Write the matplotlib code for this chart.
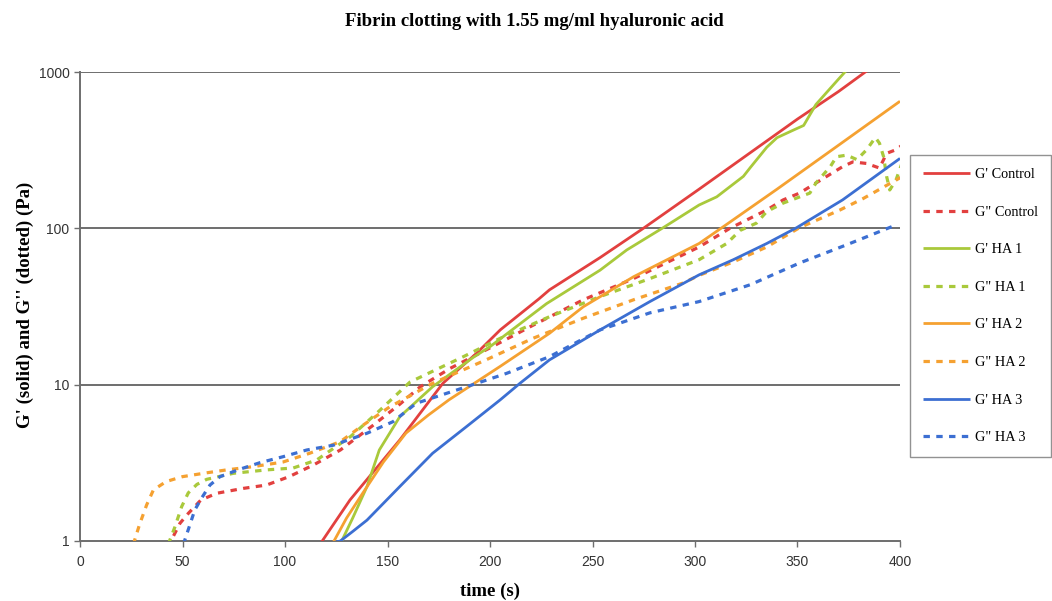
import matplotlib
matplotlib.use("Agg")
import matplotlib.pyplot as plt
from matplotlib.ticker import FixedLocator, FixedFormatter, NullLocator

# ---- data ----
x_ticks = [0, 50, 100, 150, 200, 250, 300, 350, 400]
y_ticks = [1, 10, 100, 1000]
y_tick_labels = ["1", "10", "100", "1000"]

gp_ctrl_t = [117, 131.7, 156, 177, 193.5, 205, 224, 229, 253.7, 274.8, 302, 325, 350, 370, 387]
gp_ctrl_v = [0.95, 1.83, 4.43, 10.2, 15.9, 22.4, 35.5, 40.4, 65, 100, 178, 292, 500, 750, 1090]

gpp_ctrl_t = [44, 45.5, 48.8, 52.8, 59, 66.7, 79.6, 91, 102, 113.8, 127, 143, 156, 166, 180.5, 200,
              221, 245.5, 270, 302, 317, 335, 343, 351, 364, 372, 377, 383.7, 390, 393.5, 398, 401]
gpp_ctrl_v = [0.9, 1.07, 1.3, 1.5, 1.83, 2.02, 2.17, 2.28, 2.58, 3.06, 3.82, 5.5, 7.5, 9.7, 12.7, 17.2,
              24, 34.9, 47.7, 76, 100, 131, 152, 168, 214, 248, 266, 260, 243, 302, 318, 340]

gp_ha1_t = [126, 133, 140, 146, 156, 172, 192, 200, 227.6, 253.7, 266.7, 284.5, 302, 310.6, 323.6,
            327, 335, 340, 348, 353, 359, 365, 370, 376]
gp_ha1_v = [0.9, 1.4, 2.23, 3.82, 6.24, 9.7, 15, 17.5, 33, 54, 72.7, 101, 141, 159, 215,
            245, 330, 380, 425, 455, 620, 760, 900, 1100]

gpp_ha1_t = [43, 46.3, 49.6, 52.8, 57, 61.8, 74.8, 91, 104, 115.5, 132, 144.7, 161, 187, 205, 229,
             253.7, 278, 302, 315.5, 322, 330, 335, 343, 356, 359, 366, 369, 374, 379, 383.7, 388,
             390, 392, 393.5, 395, 398, 401]
gpp_ha1_v = [0.95, 1.23, 1.66, 2.03, 2.3, 2.48, 2.71, 2.85, 2.93, 3.3, 4.66, 6.56, 10.4, 15.1, 19.8, 27.2,
             36.6, 47.7, 63, 80, 97, 108, 128, 145, 168, 195, 248, 287, 294, 275, 318, 381,
             350, 287, 214, 176, 203, 262]

gp_ha2_t = [122, 130, 138, 148, 159, 170, 180, 205, 229, 245.5, 270, 302, 315, 340, 370, 400]
gp_ha2_v = [0.9, 1.4, 2.03, 3.2, 4.9, 6.4, 8.0, 13.1, 21.3, 31.5, 49, 80, 105, 178, 340, 650]

gpp_ha2_t = [26, 29, 32.5, 35.8, 42, 50, 61.8, 71.5, 84.5, 99, 112, 127, 138, 151, 172, 198, 221,
             245.5, 270, 294, 302, 318.7, 335, 351, 370.7, 382, 401]
gpp_ha2_v = [0.95, 1.27, 1.7, 2.12, 2.4, 2.58, 2.73, 2.85, 2.99, 3.2, 3.64, 4.32, 5.5, 7.2, 10.2, 14.4, 19.8,
             26.6, 34.9, 44.6, 50, 61, 76, 101, 131, 155, 214]

gp_ha3_t = [120, 127, 133, 140, 156, 172, 188.6, 205, 214.6, 229, 253.7, 278, 302, 318.7, 335, 349.6, 372, 400]
gp_ha3_v = [0.95, 1.0, 1.15, 1.36, 2.23, 3.64, 5.4, 8.0, 10.2, 14.4, 22.4, 34, 50.4, 63, 80, 101, 152, 280]

gpp_ha3_t = [50.4, 52.8, 56, 59.3, 63.4, 68.3, 78, 87.8, 99, 110.6, 123.6, 140, 152.7, 164, 188.6, 208,
             229, 253.7, 278, 302, 327, 351, 374, 398]
gpp_ha3_v = [0.95, 1.18, 1.58, 1.88, 2.28, 2.58, 2.88, 3.17, 3.46, 3.82, 4.1, 4.89, 5.8, 7.6, 9.7, 11.8,
             15.1, 22.4, 28.8, 34, 43.6, 60, 78.5, 105]

labels = ["G' Control", 'G" Control', "G' HA 1", 'G" HA 1', "G' HA 2", 'G" HA 2', "G' HA 3", 'G" HA 3']

# ---- styling ----
RED = "#e2403f"
GREEN = "#a9c93b"
ORANGE = "#f5a131"
BLUE = "#3c6fd2"
DOT = (0, (2, 2))

series = [
    (gp_ctrl_t, gp_ctrl_v, RED, "-"),
    (gpp_ctrl_t, gpp_ctrl_v, RED, DOT),
    (gp_ha1_t, gp_ha1_v, GREEN, "-"),
    (gpp_ha1_t, gpp_ha1_v, GREEN, DOT),
    (gp_ha2_t, gp_ha2_v, ORANGE, "-"),
    (gpp_ha2_t, gpp_ha2_v, ORANGE, DOT),
    (gp_ha3_t, gp_ha3_v, BLUE, "-"),
    (gpp_ha3_t, gpp_ha3_v, BLUE, DOT),
]

serif = ["Liberation Serif", "DejaVu Serif"]
sans = ["Liberation Sans", "DejaVu Sans"]

fig = plt.figure(figsize=(10.52, 6.01), dpi=100)
ax = fig.add_axes([80 / 1052, (601 - 541) / 601, 820 / 1052, (541 - 72) / 601])

for (t, v, c, ls), lab in zip(series, labels):
    lw = 2.0 if ls == "-" else 2.3
    ax.plot(t, v, color=c, linestyle=ls, linewidth=lw, label=lab, solid_capstyle="butt",
            dash_capstyle="butt", zorder=3)

ax.set_yscale("log")
ax.set_xlim(0, 400)
ax.set_ylim(1, 1000)
ax.yaxis.set_major_locator(FixedLocator(y_ticks))
ax.yaxis.set_major_formatter(FixedFormatter(y_tick_labels))
ax.yaxis.set_minor_locator(NullLocator())
ax.xaxis.set_major_locator(FixedLocator(x_ticks))

for yv in y_ticks[1:]:
    ax.axhline(yv, color="#6e6e6e", linewidth=1.4, zorder=2)

for s in ["top", "right"]:
    ax.spines[s].set_visible(False)
for s in ["left", "bottom"]:
    ax.spines[s].set_color("#6e6e6e")
    ax.spines[s].set_linewidth(1.4)

ax.tick_params(axis="both", direction="out", length=4, width=1.0, color="#6e6e6e",
               labelsize=10, labelcolor="#333333")
for lab in ax.get_xticklabels() + ax.get_yticklabels():
    lab.set_family(sans)
ax.tick_params(axis="x", pad=6)

ax.set_xlabel("time (s)", family=serif, fontweight="bold", fontsize=13.5, labelpad=10)
fig.text(25 / 1052, 1 - 305 / 601, "G' (solid) and G'' (dotted) (Pa)", family=serif,
         fontweight="bold", fontsize=13.5, rotation=90, ha="center", va="center")

fig.text(534 / 1052, 1 - 22 / 601, "Fibrin clotting with 1.55 mg/ml hyaluronic acid",
         family=serif, fontweight="bold", fontsize=13.5, ha="center", va="center")

leg = fig.legend(loc="upper left", bbox_to_anchor=(910 / 1052, 1 - 155 / 601),
                 bbox_transform=fig.transFigure, frameon=True, fancybox=False,
                 prop={"family": serif, "size": 10.3}, labelspacing=1.72, handlelength=3.3,
                 handletextpad=0.35, borderpad=0.9, borderaxespad=0)
leg.get_frame().set_edgecolor("#777777")
leg.get_frame().set_linewidth(1.0)

fig.savefig("out.png", dpi=100)
